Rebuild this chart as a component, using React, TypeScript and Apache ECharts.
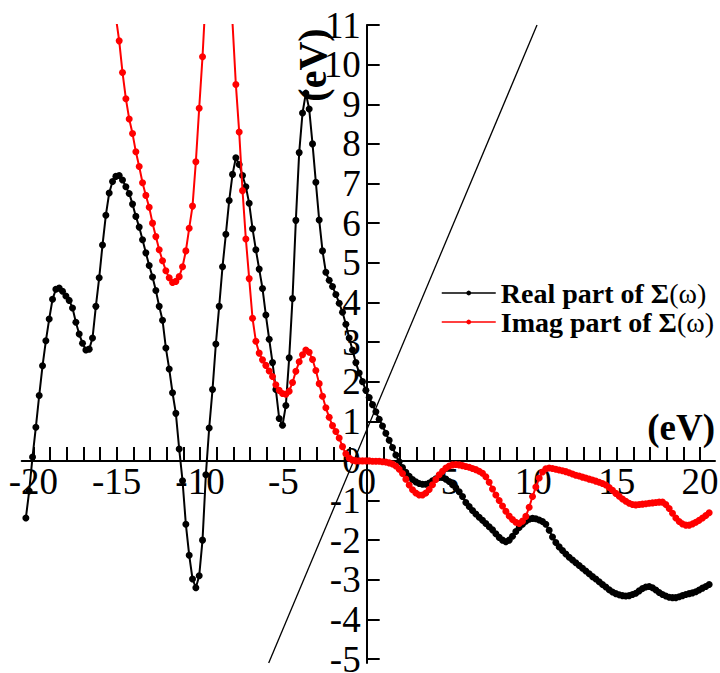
import React, { useEffect, useRef } from "react";
import * as echarts from "echarts";

// Sampling grid of both curves (eV)
const X0 = -20.45;
const DX = 0.2;

// Real part of Σ(ω), one value per grid point
const realPart: number[] = [
  -1.44, -0.76, 0.1, 0.85, 1.65, 2.4, 3.03, 3.58, 4.08, 4.33,
  4.36, 4.28, 4.16, 4.05, 3.86, 3.5, 3.2, 2.97, 2.8, 2.82,
  3.1, 3.9, 4.62, 5.45, 6.2, 6.76, 7.05, 7.18, 7.2, 7.09,
  6.92, 6.75, 6.48, 6.17, 5.9, 5.58, 5.25, 4.93, 4.64, 4.3,
  3.9, 3.55, 2.85, 2.32, 1.72, 1.2, 0.3, -0.5, -1.6, -2.38,
  -2.98, -3.2, -2.9, -2.0, -0.35, 0.83, 1.8, 2.95, 3.9, 4.9,
  5.72, 6.57, 7.23, 7.65, 7.48, 7.2, 6.92, 6.5, 5.86, 5.33,
  4.84, 4.35, 3.68, 3.07, 2.48, 1.8, 1.07, 0.9, 1.4, 2.6,
  4.1, 6.07, 7.78, 8.78, 9.28, 8.88, 8.0, 7.03, 6.08, 5.3,
  4.76, 4.56, 4.4, 4.2, 3.98, 3.75, 3.45, 3.1, 2.8, 2.48,
  2.22, 2.0, 1.78, 1.6, 1.42, 1.24, 1.05, 0.88, 0.7, 0.52,
  0.34, 0.15, -0.02, -0.17, -0.29, -0.39, -0.47, -0.53, -0.57, -0.59,
  -0.59, -0.56, -0.5, -0.45, -0.42, -0.42, -0.46, -0.52, -0.6, -0.68,
  -0.78, -0.9, -1.05, -1.15, -1.25, -1.34, -1.42, -1.5, -1.58, -1.66,
  -1.74, -1.84, -1.93, -2.0, -2.04, -2.0, -1.9, -1.78, -1.68, -1.6,
  -1.52, -1.47, -1.45, -1.46, -1.49, -1.53, -1.6, -1.75, -1.92, -2.06,
  -2.17, -2.26, -2.35, -2.43, -2.5, -2.57, -2.64, -2.71, -2.78, -2.85,
  -2.92, -2.98, -3.05, -3.12, -3.18, -3.25, -3.31, -3.35, -3.38, -3.4,
  -3.41, -3.4, -3.37, -3.34, -3.28, -3.22, -3.18, -3.17, -3.2, -3.26,
  -3.32, -3.37, -3.41, -3.44, -3.45, -3.45, -3.43, -3.4, -3.37, -3.35,
  -3.33, -3.3, -3.26, -3.21, -3.17, -3.12,
];

// Imaginary part of Σ(ω) (null where the curve is far above the plot)
const imagPart: (number | null)[] = [
  null, null, null, null, null, null, null, null, null, null,
  null, null, null, null, null, null, null, null, null, null,
  null, null, null, null, null, null, null, 11.2, 10.6, 9.8,
  9.14, 8.63, 8.26, 7.8, 7.43, 7.02, 6.7, 6.4, 6.0, 5.66,
  5.33, 5.05, 4.8, 4.62, 4.5, 4.53, 4.65, 4.9, 5.3, 5.87,
  6.43, 7.55, 8.9, 10.2, 11.8, null, null, null, null, null,
  null, 12.6, 11.05, 9.5, 8.3, 6.82, 5.6, 4.6, 3.6, 3.02,
  2.72, 2.55, 2.41, 2.27, 2.13, 1.92, 1.78, 1.7, 1.68, 1.76,
  1.98, 2.26, 2.5, 2.68, 2.8, 2.74, 2.56, 2.28, 1.95, 1.63,
  1.34, 1.1, 0.89, 0.74, 0.58, 0.36, 0.18, 0.07, 0.02, 0.0,
  0.0, 0.0, 0.0, 0.0, -0.01, -0.01, -0.01, -0.02, -0.03, -0.05,
  -0.08, -0.13, -0.21, -0.32, -0.46, -0.61, -0.73, -0.81, -0.86, -0.86,
  -0.81, -0.72, -0.6, -0.47, -0.35, -0.26, -0.18, -0.13, -0.1, -0.09,
  -0.1, -0.12, -0.14, -0.16, -0.19, -0.22, -0.26, -0.31, -0.4, -0.54,
  -0.71, -0.86, -1.0, -1.14, -1.27, -1.39, -1.48, -1.55, -1.58, -1.52,
  -1.4, -1.17, -0.9, -0.66, -0.43, -0.28, -0.2, -0.18, -0.19, -0.21,
  -0.23, -0.25, -0.27, -0.3, -0.33, -0.36, -0.38, -0.41, -0.43, -0.46,
  -0.48, -0.51, -0.54, -0.57, -0.61, -0.67, -0.74, -0.82, -0.89, -0.96,
  -1.02, -1.07, -1.1, -1.11, -1.1, -1.09, -1.08, -1.07, -1.06, -1.05,
  -1.04, -1.04, -1.1, -1.2, -1.32, -1.44, -1.53, -1.59, -1.62, -1.62,
  -1.59, -1.55, -1.5, -1.44, -1.38, -1.31,
];

// Straight line (ω - const)
const diagX = [-5.88, 10.22];
const diagY = [-5.1, 11.0];

const seriesNames = ["Real part of Σ(ω)", "Imag part of Σ(ω)"];

const xTicks = [
  -20, -19, -18, -17, -16, -15, -14, -13, -12, -11, -10, -9, -8, -7, -6, -5, -4, -3, -2, -1,
  0, 1, 2, 3, 4, 5, 6, 7, 8, 9, 10, 11, 12, 13, 14, 15, 16, 17, 18, 19, 20,
];
const xLabels = [-20, -15, -10, -5, 0, 5, 10, 15, 20];
const yTicks = [-5, -4, -3, -2, -1, 0, 1, 2, 3, 4, 5, 6, 7, 8, 9, 10, 11];

const X_MIN = -20.7;
const X_MAX = 20.9;
const Y_MIN = -5.1;
const Y_MAX = 11;

const FONT = '"Liberation Serif", "Times New Roman", serif';

export default function App() {
  const ref = useRef<HTMLDivElement>(null);

  useEffect(() => {
    if (!ref.current) return;
    const chart = echarts.init(ref.current, null, { renderer: "svg" });

    const G_LEFT = 21.7;
    const G_TOP = 25;
    const G_W = 693.3;
    const G_H = 638;
    // place axes so they cross at the origin
    const yAxisOffset = -((0 - X_MIN) / (X_MAX - X_MIN)) * G_W;
    const xAxisOffset = -((0 - Y_MIN) / (Y_MAX - Y_MIN)) * G_H;

    const realData = realPart.map((y, i) => [X0 + DX * i, y]);
    const imagData = imagPart.map((y, i) => [X0 + DX * i, y === null ? "-" : y]);
    const diagData = diagX.map((x, i) => [x, diagY[i]]);

    const option: any = {
      animation: false,
      backgroundColor: "#fff",
      grid: {
        left: G_LEFT,
        top: G_TOP,
        width: G_W,
        height: G_H,
        containLabel: false,
        outerBoundsMode: "none",
      },
      xAxis: {
        type: "value",
        min: X_MIN,
        max: X_MAX,
        position: "bottom",
        offset: xAxisOffset,
        axisLine: { onZero: false, lineStyle: { color: "#000", width: 2 } },
        axisTick: {
          inside: true,
          length: 14,
          customValues: xTicks,
          lineStyle: { color: "#000", width: 2 },
        },
        axisLabel: {
          customValues: xLabels,
          fontSize: 37,
          lineHeight: 30,
          fontFamily: FONT,
          color: "#000",
          margin: 6,
        },
        splitLine: { show: false },
      },
      yAxis: {
        type: "value",
        min: Y_MIN,
        max: Y_MAX,
        position: "left",
        offset: yAxisOffset,
        axisLine: { onZero: false, lineStyle: { color: "#000", width: 2 } },
        axisTick: {
          inside: true,
          length: 13,
          customValues: yTicks,
          lineStyle: { color: "#000", width: 2 },
        },
        axisLabel: {
          customValues: yTicks,
          fontSize: 37,
          lineHeight: 26,
          fontFamily: FONT,
          color: "#000",
          margin: 6,
        },
        splitLine: { show: false },
      },
      legend: {
        orient: "vertical",
        left: 441,
        top: 278.5,
        padding: 0,
        itemWidth: 54,
        itemHeight: 6,
        itemGap: 0,
        selectedMode: false,
        data: seriesNames,
        lineStyle: { width: 1.5 },
        formatter: (name: string) => name.replace("(ω)", "{n|(ω)}"),
        textStyle: {
          fontFamily: FONT,
          fontSize: 28,
          fontWeight: "bold",
          color: "#000",
          lineHeight: 29,
          rich: {
            n: { fontFamily: FONT, fontSize: 28, fontWeight: "normal", color: "#000", lineHeight: 29 },
          },
        },
      },
      series: [
        {
          type: "line",
          data: diagData,
          showSymbol: false,
          symbol: "none",
          lineStyle: { color: "#000", width: 1.3 },
          silent: true,
          z: 1,
        },
        {
          name: seriesNames[0],
          type: "line",
          data: realData,
          symbol: "circle",
          symbolSize: 7,
          showSymbol: true,
          color: "#000",
          itemStyle: { color: "#000" },
          lineStyle: { color: "#000", width: 2 },
          emphasis: { disabled: true },
          clip: true,
          z: 2,
        },
        {
          name: seriesNames[1],
          type: "line",
          data: imagData,
          symbol: "circle",
          symbolSize: 7,
          showSymbol: true,
          connectNulls: false,
          color: "#ff0000",
          itemStyle: { color: "#ff0000" },
          lineStyle: { color: "#ff0000", width: 2 },
          emphasis: { disabled: true },
          clip: true,
          z: 3,
        },
      ],
      graphic: [
        {
          type: "text",
          x: 715,
          y: 427,
          z: 0,
          style: {
            text: "(eV)",
            fontFamily: FONT,
            fontSize: 37,
            fontWeight: "bold",
            fill: "#000",
            align: "right",
            verticalAlign: "middle",
            textAlign: "right",
            textVerticalAlign: "middle",
          },
        },
        {
          type: "text",
          x: 312,
          y: 65,
          z: 0,
          rotation: Math.PI / 2,
          style: {
            text: "(eV)",
            fontFamily: FONT,
            fontSize: 40,
            fontWeight: "bold",
            fill: "#000",
            align: "center",
            verticalAlign: "middle",
            textAlign: "center",
            textVerticalAlign: "middle",
          },
        },
      ],
    };

    chart.setOption(option);
    return () => chart.dispose();
  }, []);

  return (
    <div
      ref={ref}
      style={{ position: "fixed", left: 0, top: 0, width: 720, height: 673, background: "#fff" }}
    />
  );
}
